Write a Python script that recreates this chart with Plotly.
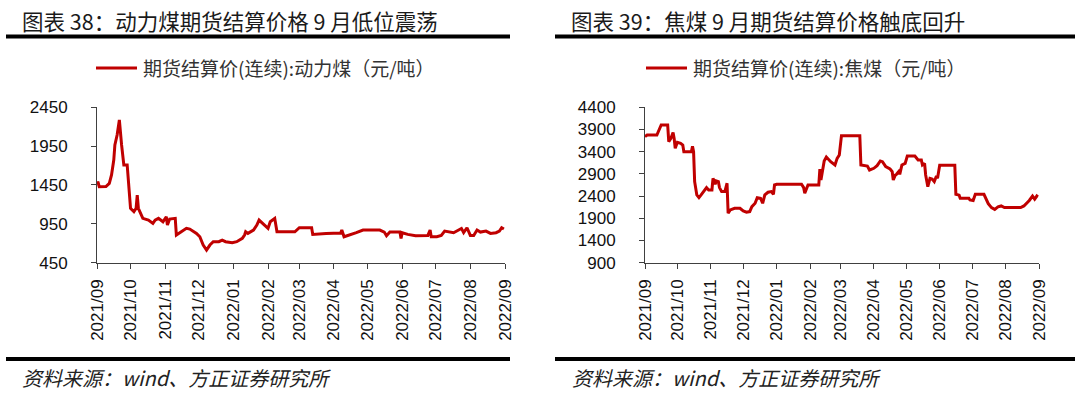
import plotly.graph_objects as go

# ---------------- data ----------------
zc_dates = [
    "2021-09-01", "2021-09-02", "2021-09-03", "2021-09-09", "2021-09-12", "2021-09-14",
    "2021-09-16", "2021-09-17", "2021-09-19", "2021-09-21", "2021-09-23", "2021-09-25",
    "2021-09-28", "2021-10-01", "2021-10-04", "2021-10-06", "2021-10-07", "2021-10-08",
    "2021-10-12", "2021-10-17", "2021-10-21", "2021-10-23", "2021-10-26", "2021-10-30",
    "2021-11-02", "2021-11-03", "2021-11-05", "2021-11-10", "2021-11-11", "2021-11-16",
    "2021-11-20", "2021-11-23", "2021-11-29", "2021-12-02", "2021-12-05", "2021-12-08",
    "2021-12-11", "2021-12-14", "2021-12-19", "2021-12-22", "2021-12-25", "2021-12-31",
    "2022-01-04", "2022-01-09", "2022-01-11", "2022-01-12", "2022-01-14", "2022-01-19",
    "2022-01-22", "2022-01-24", "2022-01-30", "2022-02-01", "2022-02-03", "2022-02-07",
    "2022-02-09", "2022-02-25", "2022-03-01", "2022-03-12", "2022-03-13", "2022-03-25",
    "2022-04-07", "2022-04-08", "2022-04-10", "2022-04-14", "2022-04-21", "2022-04-27",
    "2022-05-12", "2022-05-16", "2022-05-18", "2022-05-21", "2022-05-30", "2022-05-31",
    "2022-06-01", "2022-06-06", "2022-06-13", "2022-06-24", "2022-06-26", "2022-06-27",
    "2022-07-02", "2022-07-06", "2022-07-09", "2022-07-17", "2022-07-24", "2022-07-26",
    "2022-07-29", "2022-08-01", "2022-08-04", "2022-08-07", "2022-08-10", "2022-08-15",
    "2022-08-19", "2022-08-24", "2022-08-27", "2022-08-29", "2022-08-31",
]
zc_values = [
    1483, 1480, 1427, 1430, 1470, 1578,
    1771, 1965, 2093, 2287, 1965, 1707,
    1707, 1148, 1105, 1150, 1320, 1150,
    1020, 998, 955, 998, 1020, 976,
    1041, 933, 1011, 1020, 805, 847,
    891, 882, 826, 783, 676, 611,
    676, 719, 719, 740, 719, 705,
    719, 762, 805, 847, 826, 869,
    933, 998, 912, 891, 976, 1020,
    847, 847, 899, 899, 813, 826,
    830, 869, 783, 800, 835, 869,
    869, 843, 796, 843, 843, 761,
    835, 813, 796, 800, 869, 783,
    783, 800, 856, 835, 890, 835,
    899, 800, 800, 869, 843, 856,
    826, 835, 856, 899, 882,
]

jm_dates = [
    "2021-09-01", "2021-09-03", "2021-09-12", "2021-09-14", "2021-09-16", "2021-09-22",
    "2021-09-23", "2021-09-25", "2021-09-27", "2021-09-28", "2021-09-29", "2021-10-01",
    "2021-10-04", "2021-10-06", "2021-10-07", "2021-10-14", "2021-10-15", "2021-10-16",
    "2021-10-17", "2021-10-19", "2021-10-21", "2021-10-23", "2021-10-26", "2021-10-28",
    "2021-10-30", "2021-11-02", "2021-11-03", "2021-11-05", "2021-11-06", "2021-11-08",
    "2021-11-09", "2021-11-11", "2021-11-14", "2021-11-16", "2021-11-17", "2021-11-19",
    "2021-11-23", "2021-11-28", "2021-12-01", "2021-12-04", "2021-12-07", "2021-12-09",
    "2021-12-12", "2021-12-14", "2021-12-17", "2021-12-19", "2021-12-21", "2021-12-24",
    "2021-12-27", "2021-12-29", "2021-12-30", "2022-01-01", "2022-01-24", "2022-01-26",
    "2022-01-27", "2022-01-30", "2022-02-09", "2022-02-10", "2022-02-11", "2022-02-13",
    "2022-02-14", "2022-02-16", "2022-02-20", "2022-02-24", "2022-02-26", "2022-02-28",
    "2022-03-01", "2022-03-02", "2022-03-19", "2022-03-20", "2022-03-26", "2022-03-28",
    "2022-04-01", "2022-04-04", "2022-04-07", "2022-04-09", "2022-04-12", "2022-04-15",
    "2022-04-16", "2022-04-18", "2022-04-19", "2022-04-21", "2022-04-22", "2022-04-24",
    "2022-04-25", "2022-04-27", "2022-04-28", "2022-04-30", "2022-05-02", "2022-05-09",
    "2022-05-12", "2022-05-15", "2022-05-16", "2022-05-18", "2022-05-19", "2022-05-21",
    "2022-05-23", "2022-05-25", "2022-05-27", "2022-05-29", "2022-05-30", "2022-06-01",
    "2022-06-15", "2022-06-16", "2022-06-19", "2022-06-20", "2022-06-28", "2022-06-29",
    "2022-07-02", "2022-07-04", "2022-07-12", "2022-07-13", "2022-07-16", "2022-07-19",
    "2022-07-22", "2022-07-25", "2022-07-28", "2022-07-31", "2022-08-15", "2022-08-18",
    "2022-08-21", "2022-08-23", "2022-08-26", "2022-08-28", "2022-08-30", "2022-08-31",
]
jm_values = [
    3738, 3776, 3776, 3890, 4001, 4001,
    3625, 3701, 3830, 3700, 3476, 3610,
    3588, 3550, 3400, 3400, 3520, 3400,
    2725, 2425, 2365, 2425, 2515, 2590,
    2537, 2537, 2800, 2665, 2740, 2725,
    2590, 2500, 2500, 2690, 2012, 2087,
    2125, 2125, 2065, 2035, 2050, 2162,
    2237, 2365, 2350, 2237, 2425, 2485,
    2500, 2440, 2650, 2665, 2665, 2590,
    2462, 2650, 2650, 3010, 2762, 3010,
    3190, 3280, 3175, 3100, 3250, 3325,
    3540, 3761, 3761, 3100, 3077, 2987,
    3025, 3085, 3190, 3175, 3062, 3025,
    3010, 2950, 2762, 2875, 2890, 2950,
    2890, 3100, 3115, 3137, 3302, 3302,
    3212, 3212, 3100, 3137, 2875, 2612,
    2800, 2785, 2725, 2850, 2800, 3092,
    3092, 2440, 2420, 2350, 2350, 2312,
    2300, 2440, 2440, 2380, 2230, 2140,
    2100, 2155, 2177, 2140, 2140, 2177,
    2252, 2300, 2400, 2330, 2400, 2380,
]

zc_ticks = [450, 950, 1450, 1950, 2450]
jm_ticks = [900, 1400, 1900, 2400, 2900, 3400, 3900, 4400]
x_range = ["2021-09-01", "2022-09-01"]

titles = ["图表 38：动力煤期货结算价格 9 月低位震荡", "图表 39：焦煤 9 月期货结算价格触底回升"]
series_names = ["期货结算价(连续):动力煤（元/吨）", "期货结算价(连续):焦煤（元/吨）"]
source_text = "资料来源：wind、方正证券研究所"

# ---------------- style / layout ----------------
W, H = 1080, 394
RED = "#C00000"
AXIS = "#404040"
CJK = "Noto Sans CJK SC"
LAT = "Liberation Sans, Arial"


def px(x):
    return x / W


def py(y):
    return 1 - y / H


fig = go.Figure()
fig.add_trace(go.Scatter(x=zc_dates, y=zc_values, mode="lines", name=series_names[0],
                         line=dict(color=RED, width=3), xaxis="x", yaxis="y",
                         showlegend=False))
fig.add_trace(go.Scatter(x=jm_dates, y=jm_values, mode="lines", name=series_names[1],
                         line=dict(color=RED, width=3), xaxis="x2", yaxis="y2",
                         showlegend=False))

common_x = dict(type="date", range=x_range, tick0="2021-09-01", dtick="M1",
                tickformat="%Y/%m", tickangle=-90, ticks="outside", ticklen=5,
                tickcolor=AXIS, showline=True, linecolor=AXIS, linewidth=1,
                showgrid=False, zeroline=False, ticklabelstandoff=4, automargin=False,
                tickfont=dict(family=LAT, size=17, color="#111"))
common_y = dict(ticks="outside", ticklen=5, tickcolor=AXIS, showline=True,
                linecolor=AXIS, linewidth=1, showgrid=False, zeroline=False,
                ticklabelstandoff=20, automargin=False,
                tickfont=dict(family=LAT, size=17, color="#111"))

ydom = [py(262.6), py(107.3)]
fig.update_layout(
    width=W, height=H, margin=dict(l=0, r=0, t=0, b=0, pad=0, autoexpand=False),
    paper_bgcolor="white", plot_bgcolor="white",
    xaxis=dict(domain=[px(97), px(505)], anchor="y", **common_x),
    yaxis=dict(domain=ydom, anchor="x", range=[450, 2450], tickvals=zc_ticks, **common_y),
    xaxis2=dict(domain=[px(645), px(1039)], anchor="y2", **common_x),
    yaxis2=dict(domain=ydom, anchor="x2", range=[900, 4400], tickvals=jm_ticks, **common_y),
)

shapes = []
annotations = []
panels = [
    dict(x0=6, x1=510, tx=20, lx0=96, lx1=137, sx=20),
    dict(x0=555, x1=1075, tx=569, lx0=646, lx1=687, sx=570),
]
for i, p in enumerate(panels):
    for yy in (36.5, 359):
        shapes.append(dict(type="line", xref="paper", yref="paper",
                           x0=px(p["x0"]), x1=px(p["x1"]), y0=py(yy), y1=py(yy),
                           line=dict(color="black", width=4)))
    shapes.append(dict(type="line", xref="paper", yref="paper",
                       x0=px(p["lx0"]), x1=px(p["lx1"]), y0=py(68), y1=py(68),
                       line=dict(color=RED, width=3)))
    annotations.append(dict(text=titles[i], xref="paper", yref="paper", align="left",
                            x=px(p["tx"]), y=py(21), xanchor="left", yanchor="middle",
                            showarrow=False, font=dict(family=CJK, size=21.5, color="#1a1a1a")))
    annotations.append(dict(text=series_names[i], xref="paper", yref="paper", align="left",
                            x=px(p["lx1"] + 4), y=py(68), xanchor="left", yanchor="middle",
                            showarrow=False, font=dict(family=CJK, size=19, color="#333")))
    annotations.append(dict(text="<i>" + source_text + "</i>", xref="paper", yref="paper",
                            align="left", x=px(p["sx"]), y=py(377), xanchor="left",
                            yanchor="middle", showarrow=False,
                            font=dict(family=CJK, size=20, color="#222")))

fig.update_layout(shapes=shapes, annotations=annotations)
fig.write_html(
    "out.html",
    config={"displayModeBar": False, "staticPlot": True},
    post_script="document.body.style.margin='0';document.body.style.overflow='hidden';",
)
